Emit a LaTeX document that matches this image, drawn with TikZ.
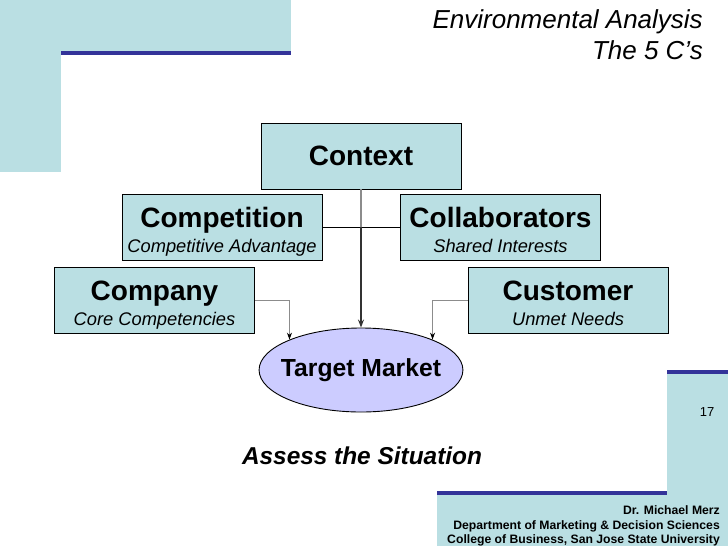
\documentclass[tikz,border=0pt]{standalone}
\usepackage{fontspec}
\setmainfont{Liberation Sans}
\usetikzlibrary{positioning, shapes.geometric, arrows.meta}

\definecolor{slideblue}{RGB}{186,223,227}
\definecolor{barblue}{RGB}{51,51,153}
\definecolor{ovalblue}{RGB}{204,204,255}

% title line and italic line of a box, baselines 25pt apart
\newcommand{\boxtitle}[2]{{\fontsize{28}{25}\selectfont\bfseries\rule{0pt}{29pt}#1}\\{\fontsize{18.3}{25}\selectfont\itshape\rule[-4pt]{0pt}{14pt}#2}}

\tikzset{
  cbox/.style={draw=black, line width=0.9pt, fill=slideblue, minimum width=200pt, minimum height=66pt,
               align=center, inner sep=0pt, font=\fontsize{18}{25}\selectfont},
  feed/.style={draw=black!45, line width=1pt, -{Stealth[length=7pt, width=5pt, color=black]}}
}

\begin{document}
\begin{tikzpicture}[x=1pt, y=-1pt]
    \useasboundingbox (0,0) rectangle (728,546);

    % Slide background
    \fill[slideblue] (0,0) rectangle (291,51);
    \fill[slideblue] (0,51) rectangle (61,172);
    \fill[barblue] (61,51) rectangle (291,55);
    \fill[slideblue] (667,374) rectangle (728,546);
    \fill[barblue] (667,370) rectangle (728,374);
    \fill[slideblue] (437,495) rectangle (667,546);
    \fill[barblue] (437,491) rectangle (667,495);

    % Title
    \node[anchor=base east, inner sep=0pt, font=\fontsize{26}{26}\selectfont\itshape] (title) at (703,28) {Environmental Analysis};
    \node[anchor=base east, inner sep=0pt, font=\fontsize{26}{26}\selectfont\itshape] (subtitle) at (703,59) {The 5 C’s};

    % The 5 C's
    \node[cbox, font=\fontsize{28}{30}\selectfont\bfseries] (context) at (361,156) {Context};
    \node[cbox] (competition) at (222,227) {\boxtitle{Competition}{Competitive Advantage}};
    \node[cbox] (collab) at (500.5,227) {\boxtitle{Collaborators}{Shared Interests}};
    \node[cbox] (company) at (154.5,300) {\boxtitle{Company}{Core Competencies}};
    \node[cbox] (customer) at (568,300) {\boxtitle{Customer}{Unmet Needs}};
    \node[ellipse, draw=black, line width=0.9pt, fill=ovalblue, minimum width=200pt, minimum height=84pt,
          inner xsep=-8pt, inner ysep=0pt, font=\fontsize{24.7}{26}\selectfont\bfseries] (target) at (361,370) {Target Market};

    % Connectors
    \coordinate (cross) at (context.south |- competition.east);
    \draw[black, line width=1pt] (competition.east) -- (collab.west);
    \draw[black!45, line width=1.4pt] (context.south) -- (cross);
    \draw[black!80, line width=1.6pt, -{Stealth[length=8pt, width=6pt]}] (cross) -- (target.north);
    \draw[feed] (company.east) -| (target.157);
    \draw[feed] (customer.west) -| (target.23);

    % Caption and footer
    \node[anchor=base, inner sep=0pt, font=\fontsize{24.4}{25}\selectfont\bfseries\itshape] (caption) at (362,464) {Assess the Situation};
    \node[inner sep=0pt, font=\fontsize{13}{13}\selectfont] (page) at (707,412) {17};
    \node[anchor=base east, inner sep=0pt, font=\fontsize{12.2}{13}\selectfont\bfseries] (author) at (720,514.5) {Dr. Michael Merz};
    \node[anchor=base east, inner sep=0pt, font=\fontsize{12.2}{13}\selectfont\bfseries] (dept) at (720,529.5) {Department of Marketing \& Decision Sciences};
    \node[anchor=base east, inner sep=0pt, font=\fontsize{12.2}{13}\selectfont\bfseries] (school) at (720,543.5) {College of Business, San Jose State University};

  \end{tikzpicture}
\end{document}
